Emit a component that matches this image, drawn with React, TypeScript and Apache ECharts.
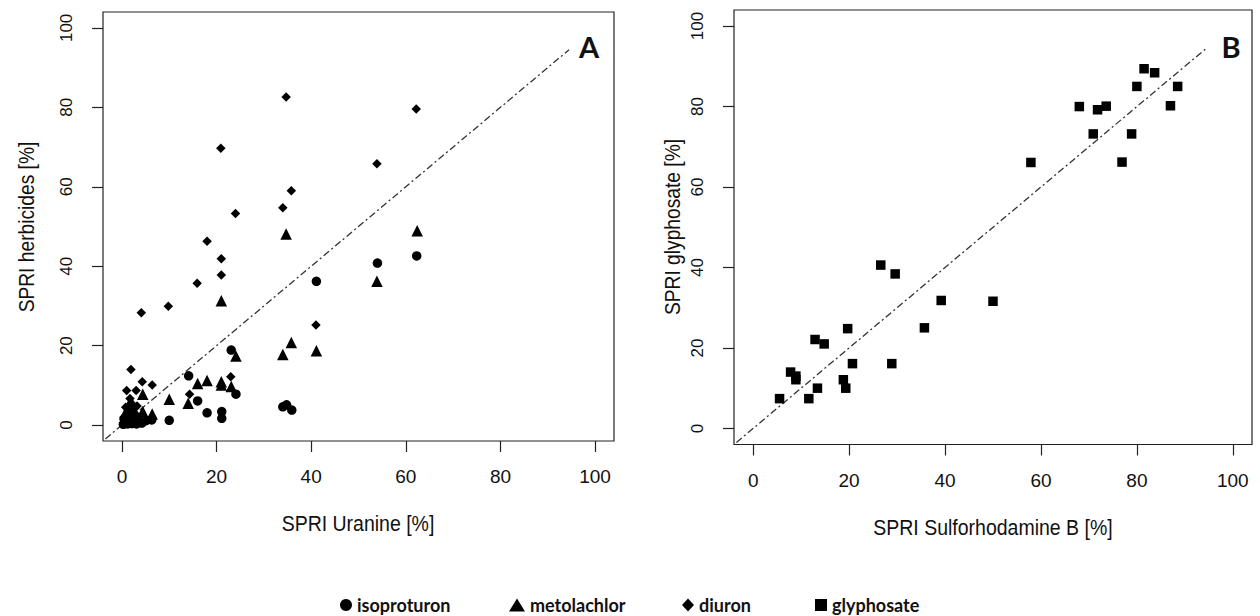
import React, { useEffect, useRef } from "react";
import * as echarts from "echarts";

// ---------- data ----------
const tickValues = [0, 20, 40, 60, 80, 100];

const isoproturon: number[][] = [
  [62.3, 42.6], [54.0, 40.8], [41.1, 36.2], [23.1, 18.9], [14.1, 12.4], [24.1, 7.8],
  [16.0, 6.1], [34.8, 5.1], [34.0, 4.6], [35.9, 3.8], [18.0, 3.1], [21.1, 3.4],
  [21.1, 1.7], [10.0, 1.2], [6.3, 1.3], [5.1, 1.1],
  [0.3, 0.2], [0.8, 0.6], [1.2, 0.3], [1.6, 1.0], [2.1, 0.4], [2.6, 0.9],
  [3.1, 0.3], [3.6, 1.2], [4.2, 0.5], [0.5, 1.5], [1.4, 2.2], [2.4, 1.8],
];

const metolachlor: number[][] = [
  [34.7, 48.1], [62.4, 48.9], [53.9, 36.2], [21.0, 31.3], [35.8, 20.8], [41.1, 18.7],
  [34.0, 17.8], [24.1, 17.4], [18.0, 11.2], [16.0, 10.5], [21.0, 10.9], [21.0, 10.1],
  [23.1, 9.7], [4.4, 7.8], [10.0, 6.5], [14.0, 5.5], [6.4, 2.8], [4.4, 3.4],
  [0.6, 2.8], [1.1, 3.6], [1.8, 2.5], [2.3, 4.2], [1.5, 5.2], [2.9, 3.0],
  [3.4, 2.0], [0.9, 1.2], [1.9, 6.0], [2.6, 1.3],
];

const diuron: number[][] = [
  [34.7, 82.6], [62.2, 79.6], [20.9, 69.7], [53.9, 65.8], [35.8, 59.0], [34.0, 54.7],
  [24.0, 53.3], [18.0, 46.3], [21.0, 41.9], [21.0, 37.8], [15.9, 35.7], [9.8, 29.9],
  [4.1, 28.3], [41.0, 25.2], [1.9, 14.0], [4.3, 10.9], [6.4, 10.1], [1.0, 8.7],
  [3.0, 8.7], [23.0, 12.2], [14.3, 7.8], [1.7, 6.7], [6.4, 1.8],
  [0.8, 4.5], [1.3, 3.0], [2.0, 5.5], [2.8, 2.4], [0.4, 2.0], [3.2, 4.8],
];

const glyphosate: number[][] = [
  [5.5, 7.4], [7.8, 14.0], [8.9, 13.0], [8.9, 12.1], [11.6, 7.4], [12.9, 22.1],
  [13.4, 10.0], [14.8, 21.0], [18.8, 12.1], [19.3, 10.0], [19.7, 24.8], [20.7, 16.1],
  [26.6, 40.6], [28.9, 16.1], [29.6, 38.4], [35.7, 25.0], [39.2, 31.8], [50.0, 31.6],
  [57.9, 66.1], [68.0, 80.0], [70.9, 73.2], [71.8, 79.2], [73.6, 80.1], [76.9, 66.2],
  [78.9, 73.2], [80.0, 85.0], [81.5, 89.4], [83.7, 88.4], [87.0, 80.2], [88.5, 85.0],
];

const identityLine: number[][] = [[-3.5, -3.5], [94.5, 94.5]];

const panelLetters = ["A", "B"];
const xTitles = ["SPRI Uranine [%]", "SPRI Sulforhodamine B [%]"];
const yTitles = ["SPRI herbicides [%]", "SPRI glyphosate [%]"];
const legendNames = ["isoproturon", "metolachlor", "diuron", "glyphosate"];
const legendIcons = ["circle", "triangle", "diamond", "rect"];

// ---------- styling ----------
const AXIS_FONT = "'Liberation Sans', Arial, sans-serif";
const LEGEND_FONT = "Lato, 'Open Sans', sans-serif";
const INK = "#111";

function makeAxis(gridIndex: number, isY: boolean) {
  return {
    type: "value",
    gridIndex,
    min: -4,
    max: 104,
    splitLine: { show: false },
    axisLine: { show: false, onZero: false },
    axisTick: {
      show: true,
      length: 11,
      customValues: tickValues,
      lineStyle: { color: "#222", width: 1.2 },
    },
    axisLabel: {
      customValues: tickValues,
      fontFamily: AXIS_FONT,
      fontSize: isY ? 17 : 19,
      color: INK,
      margin: isY ? 28 : 26,
      rotate: isY ? 90 : 0,
    },
  };
}

function lineSeries(idx: number) {
  return {
    type: "line",
    name: "1:1",
    xAxisIndex: idx,
    yAxisIndex: idx,
    data: identityLine,
    symbol: "none",
    silent: true,
    z: 1,
    clip: false,
    lineStyle: { color: "#333", width: 1.3, type: [7, 3, 2, 3] },
  };
}

function scatter(name: string, data: number[][], symbol: string, size: number, idx: number) {
  return {
    type: "scatter",
    name,
    xAxisIndex: idx,
    yAxisIndex: idx,
    data,
    symbol,
    symbolSize: size,
    z: 3,
    itemStyle: { color: "#000", opacity: 1 },
  };
}

const legendLefts = [335, 504, 677, 810];
const legendIconW = [12, 16, 12, 12];
const legendIconH = [12, 13, 13, 12];

export default function App() {
  const ref = useRef<HTMLDivElement>(null);

  useEffect(() => {
    if (!ref.current) return;
    const chart = echarts.init(ref.current, undefined, { renderer: "svg" });
    const titleStyle = (size: number) => ({
      fontFamily: AXIS_FONT,
      fontSize: size,
      fill: INK,
      align: "center",
      verticalAlign: "middle",
    });

    chart.setOption({
      animation: false,
      backgroundColor: "#fff",
      grid: [
        { left: 103, top: 12, width: 511, height: 429, show: true, borderColor: "#222", borderWidth: 1.2, backgroundColor: "transparent" },
        { left: 734, top: 10, width: 518, height: 434.5, show: true, borderColor: "#222", borderWidth: 1.2, backgroundColor: "transparent" },
      ],
      xAxis: [makeAxis(0, false), makeAxis(1, false)],
      yAxis: [makeAxis(0, true), makeAxis(1, true)],
      legend: legendNames.map((n, i) => ({
        left: legendLefts[i],
        top: 591,
        itemWidth: legendIconW[i],
        itemHeight: legendIconH[i],
        selectedMode: false,
        data: [{ name: n, icon: legendIcons[i] }],
        textStyle: { fontFamily: LEGEND_FONT, fontWeight: "bold", fontSize: 18, color: INK },
      })),
      graphic: [
        { type: "text", x: 589, y: 46, style: { text: panelLetters[0], fontFamily: LEGEND_FONT, fontWeight: "bold", fontSize: 29, fill: INK, align: "center", verticalAlign: "middle" } },
        { type: "text", x: 1231, y: 46, style: { text: panelLetters[1], fontFamily: LEGEND_FONT, fontWeight: "bold", fontSize: 29, fill: INK, align: "center", verticalAlign: "middle" } },
        { type: "text", x: 358, y: 523, scaleY: 1.15, style: { text: xTitles[0], ...titleStyle(19.5) } },
        { type: "text", x: 993, y: 527, scaleY: 1.15, style: { text: xTitles[1], ...titleStyle(19.5) } },
        { type: "text", x: 26, y: 227, rotation: Math.PI / 2, scaleY: 1.15, style: { text: yTitles[0], ...titleStyle(19.2) } },
        { type: "text", x: 672, y: 227, rotation: Math.PI / 2, scaleY: 1.15, style: { text: yTitles[1], ...titleStyle(19.2) } },
      ],
      series: [
        lineSeries(0),
        lineSeries(1),
        scatter(legendNames[0], isoproturon, "circle", 9.5, 0),
        scatter(legendNames[1], metolachlor, "triangle", 11.5, 0),
        scatter(legendNames[2], diuron, "diamond", 9.5, 0),
        scatter(legendNames[3], glyphosate, "rect", 9.5, 1),
      ],
    });
    return () => chart.dispose();
  }, []);

  return (
    <div
      ref={ref}
      style={{ position: "fixed", left: 0, top: 0, width: 1260, height: 616, background: "#fff" }}
    />
  );
}
